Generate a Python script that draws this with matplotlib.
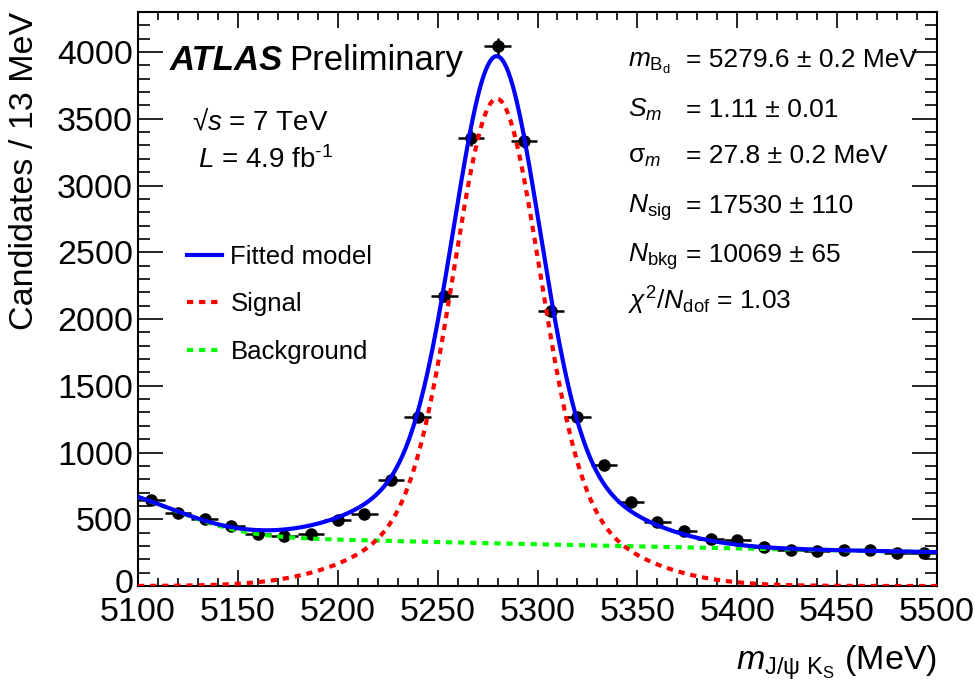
import math
import numpy as np
import matplotlib
matplotlib.use("Agg")
import matplotlib.pyplot as plt
import matplotlib.transforms as mtransforms
from matplotlib.ticker import MultipleLocator

plt.rcParams['font.family'] = ['Liberation Sans', 'DejaVu Sans']
plt.rcParams['mathtext.fontset'] = 'custom'
plt.rcParams['mathtext.rm'] = 'Liberation Sans'
plt.rcParams['mathtext.it'] = 'Liberation Sans:italic'
plt.rcParams['mathtext.bf'] = 'Liberation Sans:bold'

# Binned J/psi K_S candidate counts (30 bins between 5100 and 5500 MeV)
bin_centers = [5106.7, 5120.0, 5133.3, 5146.7, 5160.0, 5173.3, 5186.7, 5200.0,
               5213.3, 5226.7, 5240.0, 5253.3, 5266.7, 5280.0, 5293.3, 5306.7,
               5320.0, 5333.3, 5346.7, 5360.0, 5373.3, 5386.7, 5400.0, 5413.3,
               5426.7, 5440.0, 5453.3, 5466.7, 5480.0, 5493.3]
counts = [647, 547, 505, 447, 387, 372, 392, 497, 542, 797, 1267, 2172, 3355,
          4042, 3337, 2060, 1267, 904, 629, 477, 412, 350, 342, 292, 267, 260,
          267, 272, 250, 247]
half_bin = 400.0 / 30 / 2

# Fit model parameters
mass_bd = 5279.6
sig_amp = [3000.0, 650.0]      # two Gaussian resolution components
sig_width = [21.0, 48.0]
comb_amp, comb_slope = 385.0, 960.0          # combinatorial exponential
prt_amp, prt_edge, prt_width = 400.0, 5116.0, 42.0  # partially reconstructed edge

x_lo, x_hi = 5100, 5500
xs = np.linspace(x_lo, x_hi, 801)
erfc = np.vectorize(math.erfc)
signal = sum(a * np.exp(-0.5 * ((xs - mass_bd) / w) ** 2) for a, w in zip(sig_amp, sig_width))
background = (comb_amp * np.exp(-(xs - x_lo) / comb_slope)
              + prt_amp * 0.5 * erfc((xs - prt_edge) / prt_width))
model = signal + background

fig = plt.figure(figsize=(9.75, 6.88), dpi=100)
ax = fig.add_axes([138 / 975, 1 - 586 / 688, 799 / 975, 574 / 688])

ax.errorbar(bin_centers, counts, xerr=half_bin, yerr=np.sqrt(counts), fmt='o',
            color='black', markersize=8, elinewidth=1.8, capsize=0, zorder=2)
l_bkg, = ax.plot(xs, background, color='#00ff00', lw=3, ls=(0, (1.5, 1.4)), zorder=3)
l_sig, = ax.plot(xs, signal, color='#ff0000', lw=3, ls=(0, (1.5, 1.4)), zorder=4)
l_mod, = ax.plot(xs, model, color='#0000ff', lw=3, zorder=5)

ax.set_xlim(x_lo, x_hi)
ax.set_ylim(0, 4300)
ax.xaxis.set_major_locator(MultipleLocator(50))
ax.xaxis.set_minor_locator(MultipleLocator(10))
ax.yaxis.set_major_locator(MultipleLocator(500))
ax.yaxis.set_minor_locator(MultipleLocator(100))
for s in ax.spines.values():
    s.set_linewidth(1.5)
ax.tick_params(axis='both', which='both', direction='in', top=True, right=True,
               width=1.2, labelsize=24.5)
ax.tick_params(axis='x', which='major', length=11.3, pad=8)
ax.tick_params(axis='x', which='minor', length=6)
ax.tick_params(axis='y', which='major', length=17.8, pad=3.5)
ax.tick_params(axis='y', which='minor', length=8.9)

# lift the "0" label a little so it clears the first x label
fig.canvas.draw()
lift = mtransforms.ScaledTranslation(0, 5 / 100, fig.dpi_scale_trans)
for lab in ax.get_yticklabels():
    if lab.get_text() == '0':
        lab.set_transform(lab.get_transform() + lift)

ax.set_ylabel('Candidates / 13 MeV', fontsize=24.5, loc='top', labelpad=12)
ax.set_xlabel(r'$m_{\mathrm{J/\psi\ K_S}}$ (MeV)', fontsize=24.5, loc='right', labelpad=11)

leg = ax.legend([l_mod, l_sig, l_bkg], ['Fitted model', 'Signal', 'Background'],
                loc='upper left', bbox_to_anchor=(0.033, 0.635), frameon=False,
                fontsize=18.5, handlelength=1.36, handletextpad=0.31, labelspacing=0.92)

def px(x, y):
    return x / 975, 1 - y / 688

fig.text(*px(170, 70), 'ATLAS', fontsize=25, fontweight='bold', fontstyle='italic', va='baseline')
fig.text(*px(289, 70), 'Preliminary', fontsize=25, va='baseline')
fig.text(*px(192, 130), '\u221a$s$ = 7 TeV', fontsize=20, va='baseline')
fig.text(*px(198, 168), r'$L$ = 4.9 fb$^{\text{-1}}$', fontsize=20, va='baseline')

rows = [(r'$m_{\mathrm{B_d}}$', '= 5279.6 \u00b1 0.2 MeV'),
        (r'$S_m$', '= 1.11 \u00b1 0.01'),
        (r'$\mathrm{\sigma}_m$', '= 27.8 \u00b1 0.2 MeV'),
        (r'$N_{\mathrm{sig}}$', '= 17530 \u00b1 110'),
        (r'$N_{\mathrm{bkg}}$', '= 10069 \u00b1 65')]
baselines = [67, 117, 163, 213, 262]
for (sym, val), yb in zip(rows, baselines):
    fig.text(*px(628, yb), sym, fontsize=19, va='baseline')
    fig.text(*px(686, yb), val, fontsize=19, va='baseline')
fig.text(*px(628, 310), r'$\chi^2/N_{\mathrm{dof}}$ = 1.03', fontsize=19, va='baseline')

fig.savefig('out.png', dpi=100)
